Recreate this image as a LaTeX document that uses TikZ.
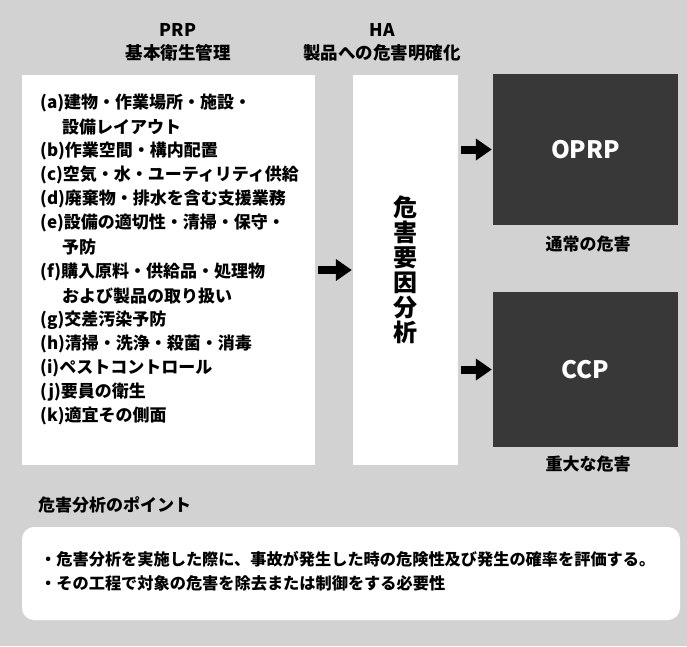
\documentclass[tikz,border=0pt]{standalone}
\usepackage{fontspec}
\setmainfont{Noto Sans CJK JP}
\newfontfamily\jp{Noto Sans CJK JP}
\usetikzlibrary{arrows.meta}
\definecolor{bggray}{HTML}{D2D2D2}
\definecolor{darkbox}{HTML}{383838}
\tikzset{
  panel/.style={fill=white, draw=none, inner sep=0pt},
  darkpanel/.style={fill=darkbox, draw=none, inner sep=0pt, text=white, font=\jp\bfseries\fontsize{24}{26}\selectfont},
  title/.style={font=\jp\bfseries\fontsize{17.5}{19}\selectfont, inner sep=0pt},
  item/.style={font=\jp\bfseries\fontsize{17}{18}\selectfont, inner sep=0pt, anchor=west},
  caption/.style={font=\jp\bfseries\fontsize{17}{19}\selectfont, inner sep=0pt},
  fatarrow/.style={line width=8pt, -{Triangle[length=16pt,width=21pt]}, shorten <=3pt, shorten >=1pt},
}
\begin{document}
\begin{tikzpicture}[x=1pt,y=-1pt]
\fill[bggray] (0,0) rectangle (687,646);
\useasboundingbox (0,0) rectangle (687,646);
% titles
\node[title] (prpt) at (178,30) {PRP};
\node[title] (prps) at (178,53) {基本衛生管理};
\node[title] (hat) at (382,30) {HA};
\node[title] (has) at (382,53) {製品への危害明確化};
% panels
\node[panel, minimum width=293pt, minimum height=390pt] (prp) at (168.5,270) {};
\node[panel, minimum width=105pt, minimum height=390pt] (ha) at (405.5,270) {};
\node[darkpanel, minimum width=185pt, minimum height=151pt] (oprp) at (585.5,149.5) {OPRP};
\node[darkpanel, minimum width=185pt, minimum height=155pt] (ccp) at (585.5,369.5) {CCP};
% list
\foreach \t/\yy/\xx [count=\i] in {
  {(a)建物・作業場所・施設・}/103/40,
  {設備レイアウト}/127/62,
  {(b)作業空間・構内配置}/151/40,
  {(c)空気・水・ユーティリティ供給}/175/40,
  {(d)廃棄物・排水を含む支援業務}/199/40,
  {(e)設備の適切性・清掃・保守・}/223/40,
  {予防}/247/62,
  {(f)購入原料・供給品・処理物}/272/40,
  {および製品の取り扱い}/296/62,
  {(g)交差汚染予防}/320/40,
  {(h)清掃・洗浄・殺菌・消毒}/344/40,
  {(i)ペストコントロール}/368/40,
  {(j)要員の衛生}/392/40,
  {(k)適宜その側面}/416/40}
  \node[item] (li\i) at (\xx,\yy) {\t};
% vertical text
\node[font=\jp\bfseries\fontsize{24}{25}\selectfont, align=center, inner sep=0pt] (hav) at (405.5,270) {危\\害\\要\\因\\分\\析};
% arrows
\draw[fatarrow] (prp.east) -- (ha.west);
\draw[fatarrow] (ha.east |- oprp.west) -- (oprp.west);
\draw[fatarrow] (ha.east |- ccp.west) -- (ccp.west);
% captions
\node[caption] (oc) at (588,244) {通常の危害};
\node[caption] (cc) at (588,464) {重大な危害};
% bottom
\node[caption, anchor=west] (pt) at (38,505) {危害分析のポイント};
\node[panel, rounded corners=12pt, minimum width=658pt, minimum height=93pt] (pbox) at (351,573.5) {};
\node[item, font=\jp\bfseries\fontsize{16.2}{17}\selectfont] (p1) at (40,559) {・危害分析を実施した際に、事故が発生した時の危険性及び発生の確率を評価する。};
\node[item, font=\jp\bfseries\fontsize{16.2}{17}\selectfont] (p2) at (40,583) {・その工程で対象の危害を除去または制御をする必要性};
\end{tikzpicture}
\end{document}
